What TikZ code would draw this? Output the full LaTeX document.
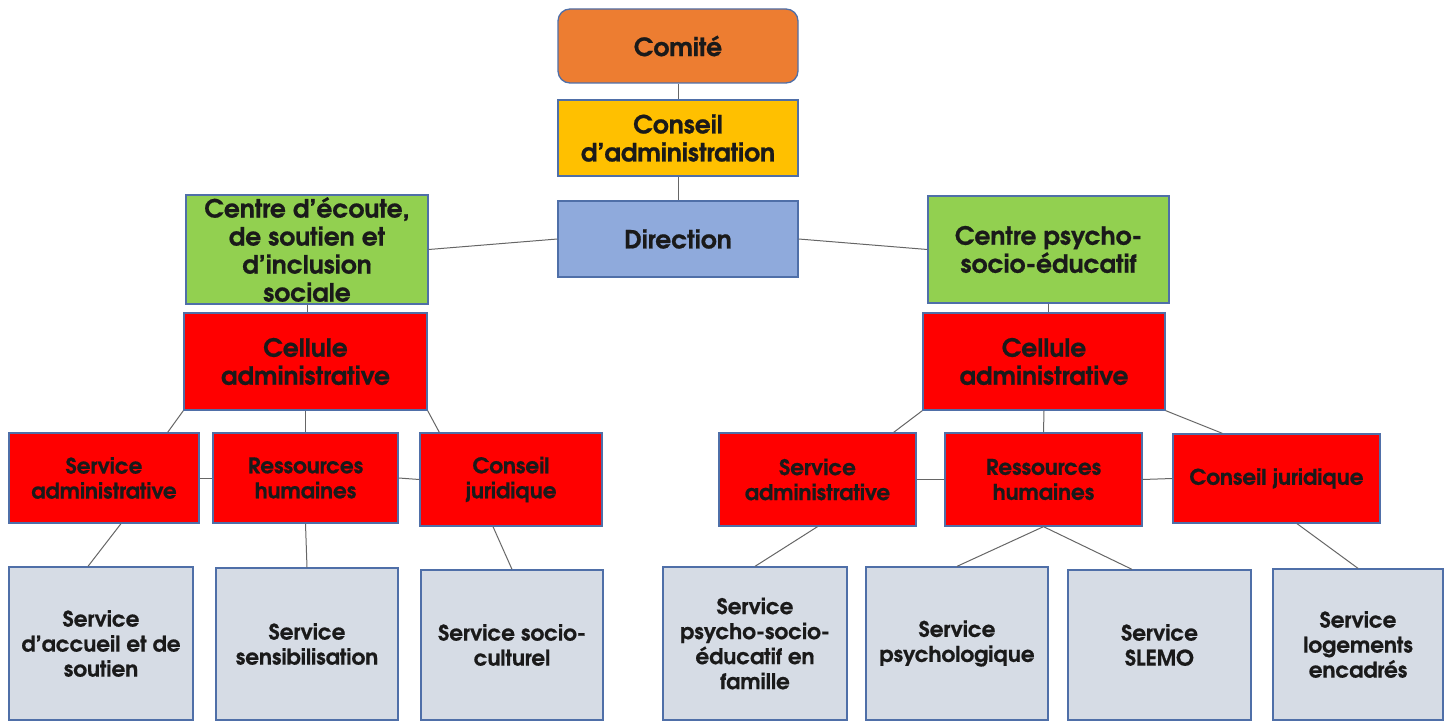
\documentclass[tikz,border=0pt]{standalone}
\usepackage{fontspec}
\setmainfont{texgyreadventor}[Extension=.otf, UprightFont=*-regular, BoldFont=*-bold, BoldFeatures={FakeBold=0.7}]
\usetikzlibrary{calc}
\definecolor{orgC}{HTML}{ED7D31}
\definecolor{golC}{HTML}{FFC000}
\definecolor{bluC}{HTML}{8FAADC}
\definecolor{grnC}{HTML}{92D050}
\definecolor{redC}{HTML}{FF0000}
\definecolor{gryC}{HTML}{D6DCE5}
\definecolor{bdrC}{HTML}{4F6FA8}
\definecolor{lnkC}{HTML}{666666}
\definecolor{txtC}{HTML}{1A1A1A}
\tikzset{
  orgbox/.style={rectangle, draw=bdrC, line width=1.3pt, align=center, inner sep=2pt, text=txtC},
  bigtxt/.style={font=\bfseries\fontsize{25}{28}\selectfont},
  smalltxt/.style={font=\bfseries\fontsize{21.5}{25}\selectfont},
  link/.style={draw=lnkC, line width=1pt},
}
\begin{document}
\begin{tikzpicture}[x=1pt,y=-1pt]
\useasboundingbox (0,0) rectangle (1451,722);
% top tier
\node[orgbox, bigtxt, fill=orgC, rounded corners=12pt, minimum width=240pt, minimum height=74pt] (com) at (678,46) {Comité};
\node[orgbox, bigtxt, fill=golC, minimum width=240pt, minimum height=76pt] (cons) at (678,138) {Conseil\\d’administration};
\node[orgbox, bigtxt, fill=bluC, minimum width=240pt, minimum height=76pt] (dir) at (678,239) {Direction};
\node[orgbox, bigtxt, fill=grnC, minimum width=242pt, minimum height=107pt] (cel) at (307,249.5) {Centre d’écoute,\\de soutien et\\d’inclusion\\sociale};
\node[orgbox, bigtxt, fill=grnC, minimum width=241pt, minimum height=107pt] (cer) at (1048.5,249.5) {Centre psycho-\\socio-éducatif};
\node[orgbox, bigtxt, fill=redC, minimum width=243pt, minimum height=97pt] (cll) at (305.5,361.5) {Cellule\\administrative};
\node[orgbox, bigtxt, fill=redC, minimum width=242pt, minimum height=97pt] (clr) at (1044,361.5) {Cellule\\administrative};
% third tier
\node[orgbox, smalltxt, fill=redC, minimum width=190pt, minimum height=90pt] (sal) at (104,478) {Service\\administrative};
\node[orgbox, smalltxt, fill=redC, minimum width=185pt, minimum height=90pt] (rhl) at (305.5,478) {Ressources\\humaines};
\node[orgbox, smalltxt, fill=redC, minimum width=182pt, minimum height=93pt] (cjl) at (511,479.5) {Conseil\\juridique};
\node[orgbox, smalltxt, fill=redC, minimum width=197pt, minimum height=93pt] (sar) at (817.5,479.5) {Service\\administrative};
\node[orgbox, smalltxt, fill=redC, minimum width=197pt, minimum height=93pt] (rhr) at (1043.5,479.5) {Ressources\\humaines};
\node[orgbox, smalltxt, fill=redC, minimum width=207pt, minimum height=89pt] (cjr) at (1276.5,478.5) {Conseil juridique};
% bottom tier
\node[orgbox, smalltxt, fill=gryC, minimum width=184pt, minimum height=153pt] (acc) at (101,643.5) {Service\\d’accueil et de\\soutien};
\node[orgbox, smalltxt, fill=gryC, minimum width=182pt, minimum height=152pt] (sen) at (307,644) {Service\\sensibilisation};
\node[orgbox, smalltxt, fill=gryC, minimum width=182pt, minimum height=150pt] (soc) at (512,645) {Service socio-\\culturel};
\node[orgbox, smalltxt, fill=gryC, minimum width=184pt, minimum height=153pt] (pse) at (755,643.5) {Service\\psycho-socio-\\éducatif en\\famille};
\node[orgbox, smalltxt, fill=gryC, minimum width=182pt, minimum height=153pt] (psy) at (957,643.5) {Service\\psychologique};
\node[orgbox, smalltxt, fill=gryC, minimum width=183pt, minimum height=150pt] (sle) at (1159.5,645) {Service\\SLEMO};
\node[orgbox, smalltxt, fill=gryC, minimum width=170pt, minimum height=151pt] (log) at (1358,644.5) {Service\\logements\\encadrés};
% connectors
\draw[link] (com.south) -- (cons.north);
\draw[link] (cons.south) -- (dir.north);
\draw[link] (dir.west) -- (cel.east);
\draw[link] (dir.east) -- (cer.west);
\draw[link] (cel.south) -- ($(cll.north)+(1.5,0)$);
\draw[link] (cer.south) -- ($(clr.north)+(4.5,0)$);
\draw[link] (cll.south west) -- ($(sal.north east)+(-32,0)$);
\draw[link] (cll.south) -- (rhl.north);
\draw[link] (cll.south east) -- ($(cjl.north west)+(20,0)$);
\draw[link] (sal.east) -- (rhl.west);
\draw[link] (rhl.east) -- (cjl.west);
\draw[link] ($(sal.south)+(17,0)$) -- ($(acc.north)+(-13,0)$);
\draw[link] (rhl.south) -- (sen.north);
\draw[link] ($(cjl.south)+(-18,0)$) -- (soc.north);
\draw[link] (clr.south west) -- ($(sar.north east)+(-23,0)$);
\draw[link] (clr.south) -- (rhr.north);
\draw[link] (clr.south east) -- ($(cjr.north west)+(50,0)$);
\draw[link] (sar.east) -- (rhr.west);
\draw[link] (rhr.east) -- (cjr.west);
\draw[link] (sar.south) -- (pse.north);
\draw[link] (rhr.south) -- (psy.north);
\draw[link] (rhr.south) -- ($(sle.north)+(-27.5,0)$);
\draw[link] ($(cjr.south)+(20.5,0)$) -- (log.north);
\end{tikzpicture}
\end{document}
